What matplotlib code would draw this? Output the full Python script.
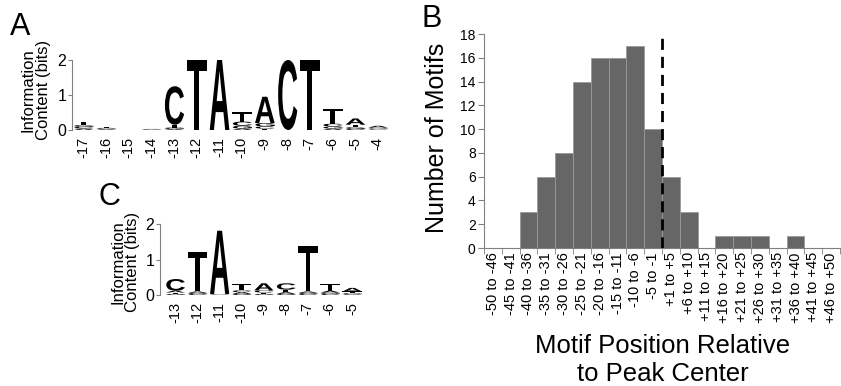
import numpy as np
import matplotlib
matplotlib.use('Agg')
import matplotlib.pyplot as plt
from matplotlib.textpath import TextPath
from matplotlib.patches import PathPatch
from matplotlib.font_manager import FontProperties
from matplotlib.transforms import Affine2D

plt.rcParams['font.family'] = ['Liberation Sans', 'DejaVu Sans']

# Panel A logo: bits per letter at each position
pos_a = ['-17', '-16', '-15', '-14', '-13', '-12', '-11', '-10', '-9', '-8', '-7', '-6', '-5', '-4']
a_A = [0.04, 0.02, 0.0, 0.01, 0.03, 0.0, 2.0, 0.04, 0.75, 0.0, 0.0, 0.04, 0.18, 0.05]
a_C = [0.05, 0.02, 0.0, 0.01, 1.10, 0.0, 0.0, 0.12, 0.06, 2.0, 0.0, 0.08, 0.03, 0.02]
a_G = [0.05, 0.02, 0.0, 0.01, 0.04, 0.0, 0.0, 0.08, 0.10, 0.0, 0.0, 0.06, 0.05, 0.03]
a_T = [0.10, 0.02, 0.0, 0.01, 0.08, 2.0, 0.0, 0.27, 0.04, 0.0, 2.0, 0.42, 0.07, 0.02]

# Panel C logo
pos_c = ['-13', '-12', '-11', '-10', '-9', '-8', '-7', '-6', '-5']
c_A = [0.05, 0.04, 1.78, 0.05, 0.20, 0.05, 0.04, 0.05, 0.10]
c_C = [0.33, 0.03, 0.01, 0.05, 0.06, 0.18, 0.03, 0.03, 0.02]
c_G = [0.03, 0.03, 0.01, 0.03, 0.03, 0.03, 0.03, 0.04, 0.03]
c_T = [0.04, 1.12, 0.01, 0.17, 0.04, 0.07, 1.28, 0.18, 0.05]

# Panel B histogram
bins_b = ['-50 to -46', '-45 to -41', '-40 to -36', '-35 to -31', '-30 to -26',
          '-25 to -21', '-20 to -16', '-15 to -11', '-10 to -6', '-5 to -1',
          '+1 to +5', '+6 to +10', '+11 to +15', '+16 to +20', '+21 to +25',
          '+26 to +30', '+31 to +35', '+36 to +40', '+41 to +45', '+46 to +50']
counts_b = [0, 0, 3, 6, 8, 14, 16, 16, 17, 10, 6, 3, 0, 1, 1, 1, 0, 1, 0, 0]

letter_font = FontProperties(family='Liberation Sans', weight='bold')


def draw_letter(ax, ch, x, y, w, h):
    tp = TextPath((0, 0), ch, size=1, prop=letter_font)
    v = tp.vertices
    x0, y0 = v[:, 0].min(), v[:, 1].min()
    bw, bh = v[:, 0].max() - x0, v[:, 1].max() - y0
    tr = Affine2D().translate(-x0, -y0).scale(w / bw, h / bh).translate(x, y)
    ax.add_patch(PathPatch(tr.transform_path(tp), color='black', lw=0))


def draw_logo(ax, positions, hA, hC, hG, hT):
    for i in range(len(positions)):
        col = sorted(zip([hA[i], hC[i], hG[i], hT[i]], 'ACGT'))
        y = 0
        for h, ch in col:
            if h > 0.005:
                draw_letter(ax, ch, i - 0.45, y, 0.9, h)
            y += h
    ax.set_ylim(0, 2)
    ax.set_yticks([0, 1, 2])
    ax.set_xticks(range(len(positions)))
    ax.set_xticklabels(positions, rotation=90, fontsize=10.5)
    ax.tick_params(axis='x', length=0, pad=5)
    ax.tick_params(axis='y', length=3, color='gray', labelsize=11.5, pad=1)
    for s in ['top', 'right', 'bottom']:
        ax.spines[s].set_visible(False)
    ax.spines['left'].set_color('gray')
    ax.spines['left'].set_linewidth(0.8)


fig = plt.figure(figsize=(8.41, 3.86), dpi=100)

ax_a = fig.add_axes([72 / 841, 256 / 386, 317 / 841, 70 / 386])
draw_logo(ax_a, pos_a, a_A, a_C, a_G, a_T)
ax_a.set_xlim(-0.5, len(pos_a) - 0.5)

ax_c = fig.add_axes([160 / 841, 91 / 386, 203 / 841, 71 / 386])
draw_logo(ax_c, pos_c, c_A, c_C, c_G, c_T)
ax_c.set_xlim(-0.68, len(pos_c) - 0.5)

fig.text(36 / 841, 1 - 90 / 386, 'Information\nContent (bits)', rotation=90,
         ha='center', va='center', fontsize=12, linespacing=1.0)
fig.text(125 / 841, 1 - 262 / 386, 'Information\nContent (bits)', rotation=90,
         ha='center', va='center', fontsize=12, linespacing=1.0)

ax_b = fig.add_axes([484 / 841, 138 / 386, 356 / 841, 214 / 386])
x = np.arange(len(bins_b))
ax_b.bar(x, counts_b, width=1.0, color='#666666', edgecolor='#9a9a9a', linewidth=0.6)
ax_b.axvline(9.5, color='black', linestyle=(0, (4, 2.5)), linewidth=2)
ax_b.set_xlim(-0.5, len(bins_b) - 0.5)
ax_b.set_ylim(0, 18)
ax_b.set_yticks(range(0, 19, 2))
ax_b.set_xticks(x)
ax_b.set_xticklabels(bins_b, rotation=90, fontsize=10.5)
ax_b.set_xticks(np.arange(-0.5, len(bins_b)), minor=True)
ax_b.tick_params(axis='x', which='major', length=0, pad=3)
ax_b.tick_params(axis='x', which='minor', length=4, color='gray')
ax_b.tick_params(axis='y', length=4, color='gray', labelsize=10, pad=2)
for s in ['top', 'right']:
    ax_b.spines[s].set_visible(False)
for s in ['left', 'bottom']:
    ax_b.spines[s].set_color('gray')
    ax_b.spines[s].set_linewidth(0.8)

fig.text(437 / 841, 1 - 138 / 386, 'Number of Motifs', rotation=90,
         ha='center', va='center', fontsize=18)
fig.text(663 / 841, 1 - 360 / 386, 'Motif Position Relative\nto Peak Center',
         ha='center', va='center', fontsize=18.5, linespacing=1.2)

fig.text(10 / 841, 1 - 35 / 386, 'A', fontsize=22, ha='left', va='baseline')
fig.text(421 / 841, 1 - 27 / 386, 'B', fontsize=22, ha='left', va='baseline')
fig.text(98 / 841, 1 - 205 / 386, 'C', fontsize=22, ha='left', va='baseline')

fig.savefig('out.png', dpi=100)
